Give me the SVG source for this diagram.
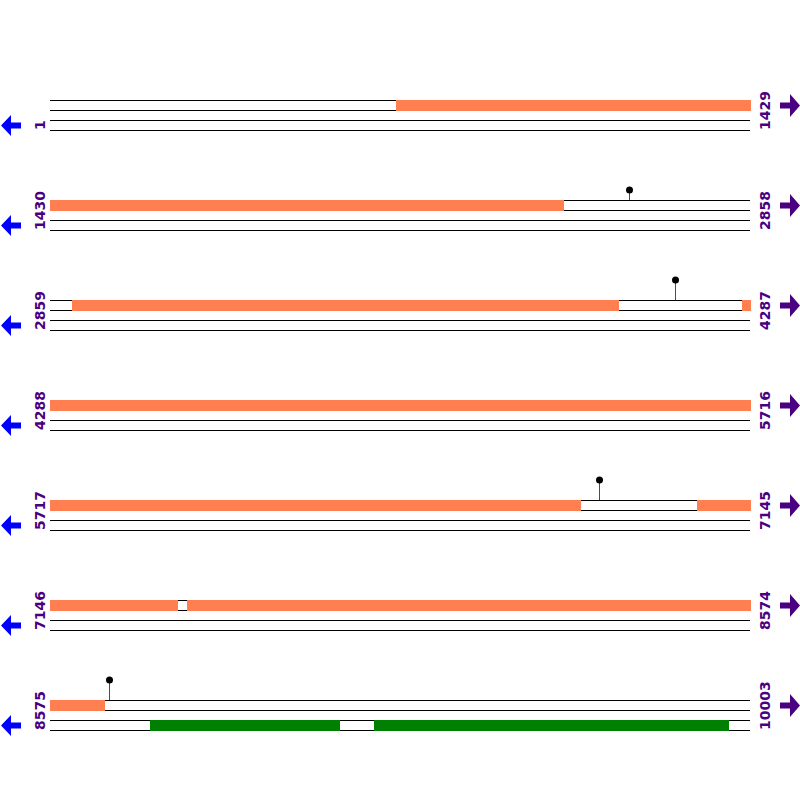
<svg xmlns="http://www.w3.org/2000/svg" width="800" height="800" viewBox="0 0 800 800">
<defs>
<style>
.ln{stroke:#000;stroke-width:1;fill:none}
.or{fill:#FF7F50}
.gr{fill:#008000}
.num{font-family:"DejaVu Sans",sans-serif;font-weight:bold;font-size:14px;fill:#4B0082}
.stem{stroke:#FF0000;stroke-width:1}
.pin{fill:#000}
.la{fill:#0000FF}
.ra{fill:#4B0082}
</style>
<g id="strands">
<line class="ln" x1="50" y1="0.5" x2="750" y2="0.5"/>
<line class="ln" x1="50" y1="10.5" x2="750" y2="10.5"/>
<line class="ln" x1="50" y1="20.5" x2="750" y2="20.5"/>
<line class="ln" x1="50" y1="30.5" x2="750" y2="30.5"/>
</g>
<polygon id="larrow" points="1,25.5 11,15 11,22.5 21,22.5 21,28.5 11,28.5 11,36"/>
<polygon id="rarrow" points="800,5.5 790,-6 790,2.5 780,2.5 780,8.5 790,8.5 790,17"/>
</defs>
<rect width="800" height="800" fill="#fff"/>

<g id="row1" transform="translate(0,100)">
<use href="#strands"/>
<rect class="or" x="396" y="0" width="355" height="11"/>
<use href="#larrow" class="la"/>
<use href="#rarrow" class="ra"/>
<text class="num" transform="translate(45,30) rotate(-90)">1</text>
<text class="num" transform="translate(770,30) rotate(-90)">1429</text>
</g>

<g id="row2" transform="translate(0,200)">
<use href="#strands"/>
<rect class="or" x="50" y="0" width="514" height="11"/>
<line class="stem" x1="629.5" y1="-7" x2="629.5" y2="0"/>
<circle class="pin" cx="629.5" cy="-10" r="3.5"/>
<use href="#larrow" class="la"/>
<use href="#rarrow" class="ra"/>
<text class="num" transform="translate(45,30) rotate(-90)">1430</text>
<text class="num" transform="translate(770,30) rotate(-90)">2858</text>
</g>

<g id="row3" transform="translate(0,300)">
<use href="#strands"/>
<rect class="or" x="72" y="0" width="547" height="11"/>
<rect class="or" x="742" y="0" width="9" height="11"/>
<line class="stem" x1="675.5" y1="-17" x2="675.5" y2="0"/>
<circle class="pin" cx="675.5" cy="-20" r="3.5"/>
<use href="#larrow" class="la"/>
<use href="#rarrow" class="ra"/>
<text class="num" transform="translate(45,30) rotate(-90)">2859</text>
<text class="num" transform="translate(770,30) rotate(-90)">4287</text>
</g>

<g id="row4" transform="translate(0,400)">
<use href="#strands"/>
<rect class="or" x="50" y="0" width="701" height="11"/>
<use href="#larrow" class="la"/>
<use href="#rarrow" class="ra"/>
<text class="num" transform="translate(45,30) rotate(-90)">4288</text>
<text class="num" transform="translate(770,30) rotate(-90)">5716</text>
</g>

<g id="row5" transform="translate(0,500)">
<use href="#strands"/>
<rect class="or" x="50" y="0" width="531" height="11"/>
<rect class="or" x="697" y="0" width="54" height="11"/>
<line class="stem" x1="599.5" y1="-17" x2="599.5" y2="0"/>
<circle class="pin" cx="599.5" cy="-20" r="3.5"/>
<use href="#larrow" class="la"/>
<use href="#rarrow" class="ra"/>
<text class="num" transform="translate(45,30) rotate(-90)">5717</text>
<text class="num" transform="translate(770,30) rotate(-90)">7145</text>
</g>

<g id="row6" transform="translate(0,600)">
<use href="#strands"/>
<rect class="or" x="50" y="0" width="128" height="11"/>
<rect class="or" x="187" y="0" width="564" height="11"/>
<use href="#larrow" class="la"/>
<use href="#rarrow" class="ra"/>
<text class="num" transform="translate(45,30) rotate(-90)">7146</text>
<text class="num" transform="translate(770,30) rotate(-90)">8574</text>
</g>

<g id="row7" transform="translate(0,700)">
<use href="#strands"/>
<rect class="or" x="50" y="0" width="55" height="11"/>
<rect class="gr" x="150" y="20" width="190" height="11"/>
<rect class="gr" x="374" y="20" width="355" height="11"/>
<line class="stem" x1="109.5" y1="-17" x2="109.5" y2="0"/>
<circle class="pin" cx="109.5" cy="-20" r="3.5"/>
<use href="#larrow" class="la"/>
<use href="#rarrow" class="ra"/>
<text class="num" transform="translate(45,30) rotate(-90)">8575</text>
<text class="num" transform="translate(770,30) rotate(-90)">10003</text>
</g>
</svg>
